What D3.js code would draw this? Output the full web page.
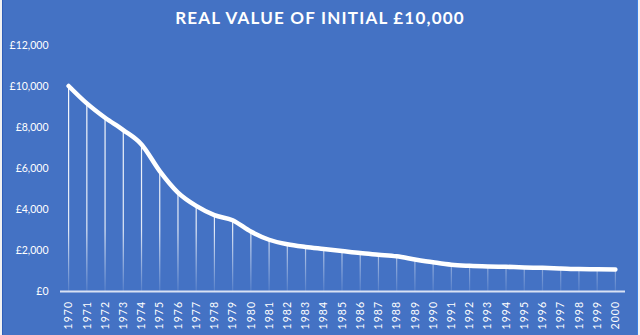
<!DOCTYPE html>
<html>
<head>
<meta charset="utf-8">
<script src="https://cdnjs.cloudflare.com/ajax/libs/d3/7.8.5/d3.min.js"></script>
<style>
  body { margin: 0; background: #f2f2f2; }
  #chart { width: 640px; height: 335px; }
  text { font-family: Lato, "Open Sans", sans-serif; fill: #ffffff; }
</style>
</head>
<body>
<div id="chart"></div>
<script>
// dados
var years = d3.range(1970, 2001).map(String);
var realValue = [10000, 9150, 8450, 7850, 7150, 5850, 4800, 4150, 3700, 3450,
                 2900, 2500, 2280, 2150, 2050, 1950, 1850, 1770, 1690, 1540,
                 1400, 1280, 1230, 1200, 1180, 1150, 1130, 1100, 1070, 1060, 1045];
var yTicks = [0, 2000, 4000, 6000, 8000, 10000, 12000];
var title = "REAL VALUE OF INITIAL £10,000";

var W = 640, H = 335;
var margin = {top: 45, right: 15.5, bottom: 44, left: 59.5};
var width = W - margin.left - margin.right;
var height = H - margin.top - margin.bottom;

var data = years.map(function(y, i) { return {year: y, value: realValue[i]}; });

var svg = d3.select("#chart").append("svg")
	.attr("width", W)
	.attr("height", H);

//Fundo
svg.append("rect")
	.attr("x", 2).attr("y", 0)
	.attr("width", 636).attr("height", H)
	.attr("fill", "#4472c4");
svg.append("line")
	.attr("x1", 2.5).attr("x2", 2.5).attr("y1", 0).attr("y2", H)
	.attr("stroke", "#2f5eb8").attr("stroke-width", 1);
svg.append("line")
	.attr("x1", 637.5).attr("x2", 637.5).attr("y1", 0).attr("y2", H)
	.attr("stroke", "#3d7fe0").attr("stroke-width", 1);

//Gradiente das linhas de queda
var defs = svg.append("defs");
var grad = defs.append("linearGradient")
	.attr("id", "dropGrad")
	.attr("gradientUnits", "userSpaceOnUse")
	.attr("x1", 0).attr("x2", 0)
	.attr("y1", 0).attr("y2", height);
grad.append("stop").attr("offset", "0%").attr("stop-color", "#ffffff").attr("stop-opacity", 1);
grad.append("stop").attr("offset", "75%").attr("stop-color", "#ffffff").attr("stop-opacity", 0.85);
grad.append("stop").attr("offset", "100%").attr("stop-color", "#ffffff").attr("stop-opacity", 0.1);

//Título
svg.append("text")
	.attr("x", 320)
	.attr("y", 24)
	.attr("text-anchor", "middle")
	.style("font-size", "17px")
	.style("font-weight", "bold")
	.style("letter-spacing", "1.2px")
	.text(title);

var g = svg.append("g")
	.attr("transform", "translate(" + margin.left + "," + margin.top + ")");

//Escalas
var x = d3.scaleBand()
	.domain(years)
	.range([0, width]);
var y = d3.scaleLinear()
	.domain([0, 12000])
	.range([height, 0]);

//Eixo Y (só rótulos)
var yAxis = g.append("g")
	.attr("class", "y-axis")
	.attr("transform", "translate(-11,0)")
	.call(d3.axisLeft(y).tickValues(yTicks).tickSize(0).tickPadding(0)
		.tickFormat(function(d) { return "£" + d3.format(",")(d); }));
yAxis.select(".domain").remove();
yAxis.selectAll("text")
	.attr("fill", "#ffffff")
	.attr("dy", "0.35em")
	.style("font-size", "10.5px")
	.style("font-family", "Lato, 'Open Sans', sans-serif");

//Linhas de queda
g.selectAll(".drop")
	.data(data)
	.enter()
	.append("line")
	.attr("class", "drop")
	.attr("x1", function(d) { return x(d.year) + x.bandwidth() / 2; })
	.attr("x2", function(d) { return x(d.year) + x.bandwidth() / 2; })
	.attr("y1", function(d) { return y(d.value); })
	.attr("y2", height)
	.attr("stroke", "url(#dropGrad)")
	.attr("stroke-width", 1.2);

//Eixo X
var xAxis = g.append("g")
	.attr("class", "x-axis")
	.attr("transform", "translate(0," + height + ")")
	.call(d3.axisBottom(x).tickSize(0).tickPadding(0));
xAxis.select(".domain")
	.attr("stroke", "#d9e2f3")
	.attr("stroke-width", 2);
xAxis.selectAll("text")
	.attr("fill", "#ffffff")
	.attr("transform", "rotate(-90)")
	.attr("text-anchor", "end")
	.attr("x", -10)
	.attr("y", 0)
	.attr("dy", "0.35em")
	.style("font-size", "10.5px")
	.style("letter-spacing", "1px")
	.style("font-family", "Lato, 'Open Sans', sans-serif");

//Linha principal
var line = d3.line()
	.x(function(d) { return x(d.year) + x.bandwidth() / 2; })
	.y(function(d) { return y(d.value); })
	.curve(d3.curveMonotoneX);
g.append("path")
	.datum(data)
	.attr("fill", "none")
	.attr("stroke", "#ffffff")
	.attr("stroke-width", 4.5)
	.attr("stroke-linecap", "round")
	.attr("stroke-linejoin", "round")
	.attr("d", line);
</script>
</body>
</html>
